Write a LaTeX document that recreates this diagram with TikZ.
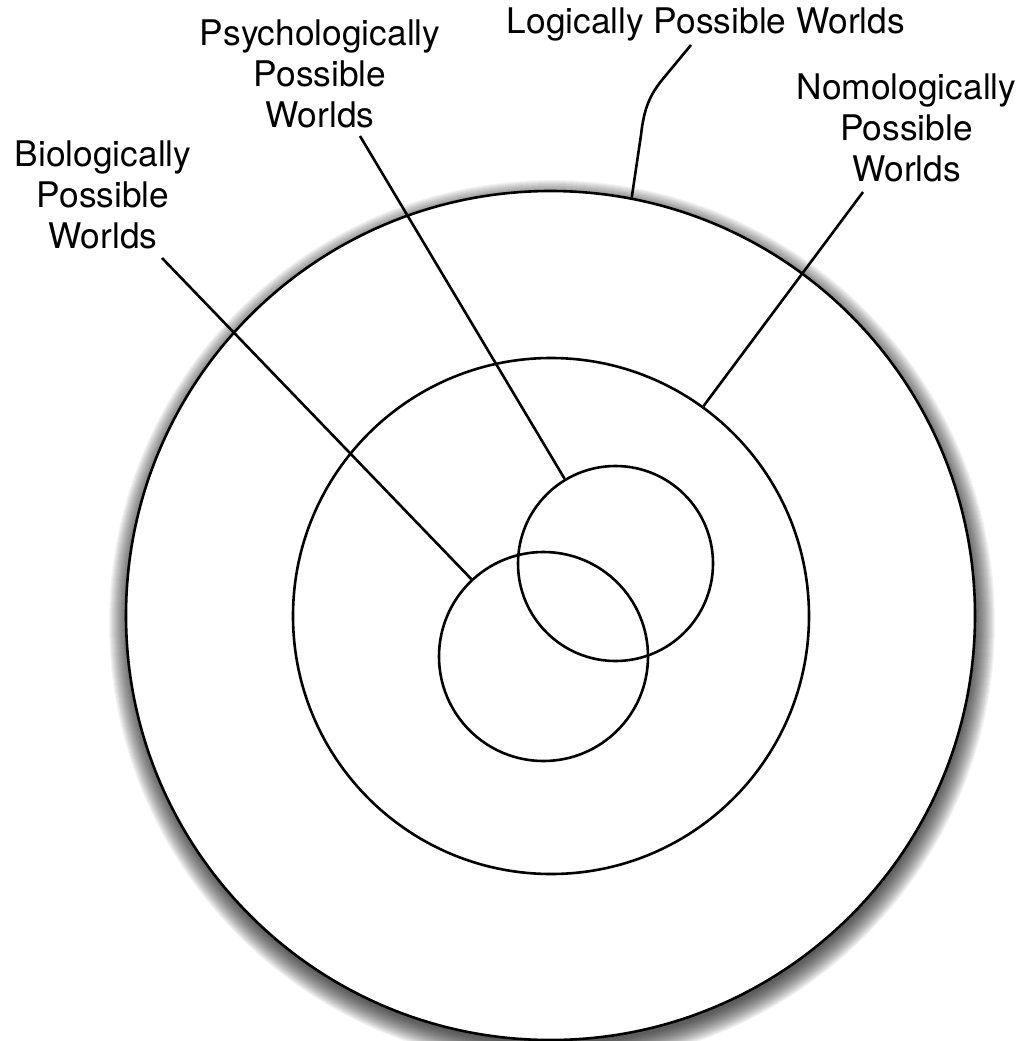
\documentclass[tikz,border=0pt]{standalone}
\usepackage{fontspec}
\setmainfont{TeX Gyre Heros}
\begin{document}
\begin{tikzpicture}[x=1pt,y=-1pt,
  world/.style={draw,circle,line width=2.6pt,inner sep=0pt},
  tag/.style={font=\fontsize{35.3}{41}\selectfont,align=center,inner sep=0pt,anchor=base},
  lead/.style={line width=2.6pt}]
\useasboundingbox (0,0) rectangle (1020,1041);
% soft shadow under the outer circle
\foreach \r in {421,...,443}
  \fill[black,opacity=0.042] (552,623) circle (\r pt);
% the nested sets of worlds
\node[world,fill=white,minimum size=849pt] (logC) at (550.5,615.5) {};
\node[world,minimum size=516pt] (nomC) at (551,616) {};
\node[world,minimum size=195pt] (psyC) at (615.5,563.5) {};
\node[world,minimum size=209pt] (bioC) at (543.5,656.5) {};
% labels (base = last line)
\node[tag] (logT) at (706,34) {Logically Possible Worlds};
\node[tag] (psyT) at (320,127) {Psychologically\\Possible\\Worlds};
\node[tag] (bioT) at (103,248) {Biologically\\Possible\\Worlds};
\node[tag] (nomT) at (906.5,181) {Nomologically\\Possible\\Worlds};
\coordinate (logTip) at (691,45);
\coordinate (psyTip) at (360,136);
\coordinate (bioTip) at (162,258);
\coordinate (nomTip) at (863,192);
% leader lines
\draw[lead] (logTip) -- (662,80) .. controls (650,95) and (644,108) .. (641,135) -- (logC.79);
\draw[lead] (psyTip) -- (psyC.121);
\draw[lead] (bioTip) -- (bioC.133);
\draw[lead] (nomTip) -- (nomC.54);
\end{tikzpicture}
\end{document}
